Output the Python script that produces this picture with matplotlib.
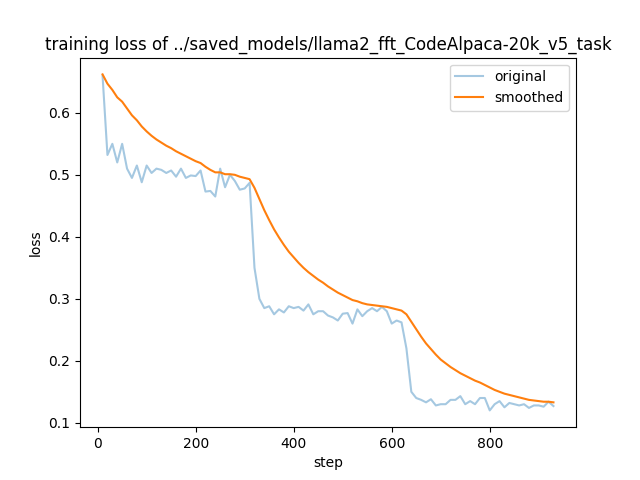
import matplotlib
matplotlib.use("Agg")
import matplotlib.pyplot as plt

steps = list(range(10, 940, 10))

original = [
    0.660, 0.532, 0.550, 0.520, 0.550, 0.510, 0.495, 0.515, 0.488, 0.515,
    0.503, 0.510, 0.508, 0.503, 0.507, 0.497, 0.510, 0.495, 0.499, 0.498,
    0.507, 0.473, 0.474, 0.465, 0.510, 0.480, 0.500, 0.490, 0.476, 0.478,
    0.487, 0.350, 0.300, 0.285, 0.288, 0.275, 0.283, 0.278, 0.288, 0.285,
    0.287, 0.281, 0.291, 0.275, 0.280, 0.280, 0.273, 0.270, 0.265, 0.276,
    0.277, 0.260, 0.283, 0.272, 0.280, 0.285, 0.280, 0.287, 0.280, 0.260,
    0.265, 0.262, 0.220, 0.150, 0.140, 0.137, 0.133, 0.138, 0.128, 0.130,
    0.130, 0.137, 0.137, 0.143, 0.130, 0.135, 0.130, 0.140, 0.140, 0.120,
    0.130, 0.135, 0.125, 0.132, 0.130, 0.128, 0.130, 0.124, 0.128, 0.128,
    0.126, 0.134, 0.127,
]

smoothed = [
    0.662, 0.647, 0.637, 0.625, 0.618, 0.607, 0.596, 0.588, 0.578, 0.570,
    0.563, 0.557, 0.552, 0.547, 0.543, 0.538, 0.534, 0.530, 0.526, 0.522,
    0.519, 0.513, 0.508, 0.504, 0.504, 0.501, 0.501, 0.500, 0.497, 0.495,
    0.493, 0.479, 0.461, 0.443, 0.427, 0.412, 0.399, 0.387, 0.376, 0.367,
    0.358, 0.350, 0.343, 0.337, 0.331, 0.326, 0.320, 0.315, 0.310, 0.306,
    0.302, 0.298, 0.296, 0.293, 0.291, 0.290, 0.289, 0.288, 0.287, 0.285,
    0.283, 0.281, 0.275, 0.263, 0.251, 0.239, 0.228, 0.219, 0.210, 0.202,
    0.196, 0.190, 0.185, 0.180, 0.176, 0.172, 0.168, 0.165, 0.161, 0.157,
    0.153, 0.150, 0.147, 0.145, 0.143, 0.141, 0.139, 0.137, 0.136, 0.135,
    0.134, 0.134, 0.133,
]

fig, ax = plt.subplots(figsize=(6.4, 4.8), dpi=100)
ax.plot(steps, original, alpha=0.4, label="original")
ax.plot(steps, smoothed, label="smoothed")
ax.set_title("training loss of ../saved_models/llama2_fft_CodeAlpaca-20k_v5_task")
ax.set_xlabel("step")
ax.set_ylabel("loss")
ax.legend()

fig.savefig("out.png", dpi=100)
plt.close(fig)
